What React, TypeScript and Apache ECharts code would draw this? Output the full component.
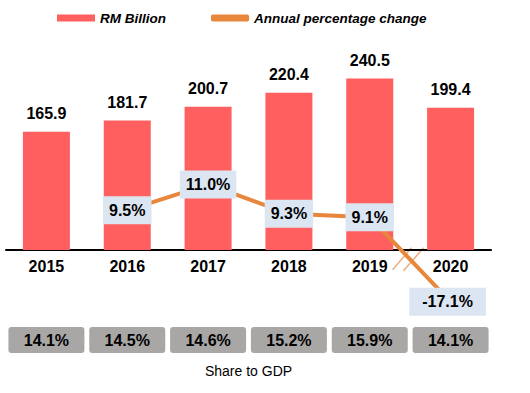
import React, { useEffect, useRef } from "react";
import * as echarts from "echarts";

const years = ["2015", "2016", "2017", "2018", "2019", "2020"];
const rmBillion = [165.9, 181.7, 200.7, 220.4, 240.5, 199.4];
const percentChange: (number | null)[] = [null, 9.5, 11.0, 9.3, 9.1, -17.1];
const shareToGdp = [14.1, 14.5, 14.6, 15.2, 15.9, 14.1];

// broken percentage axis: values below BREAK_BELOW are drawn shifted up by BREAK_SHIFT
const BREAK_BELOW = 0;
const BREAK_SHIFT = 21.3;

const FONT = "'Liberation Sans', Arial, sans-serif";
const BAR_COLOR = "#FF5F5F";
const LINE_COLOR = "#E8863C";
const LABEL_BG = "#DCE6F2";
const GREY = "#A9A6A6";

export default function App() {
  const ref = useRef<HTMLDivElement>(null);
  useEffect(() => {
    if (!ref.current) return;
    const chart = echarts.init(ref.current, undefined, { renderer: "svg" });
    const plotted = percentChange.map((v) =>
      v === null ? null : v < BREAK_BELOW ? v + BREAK_SHIFT : v
    );
    chart.setOption({
      animation: false,
      textStyle: { fontFamily: FONT },
      legend: {
        left: 52,
        top: 6,
        itemWidth: 38,
        itemHeight: 7,
        itemGap: 45,
        textStyle: { fontFamily: FONT, fontSize: 13.5, fontWeight: "bold", fontStyle: "italic", color: "#000" },
        data: [
          { name: "RM Billion", icon: "rect" },
          { name: "Annual percentage change", icon: "roundRect" },
        ],
      },
      grid: { left: 6, right: 39, top: 36, bottom: 143 },
      xAxis: [
        {
          type: "category",
          data: years,
          axisLine: { lineStyle: { color: "#000", width: 2 } },
          axisTick: { show: false },
          axisLabel: { color: "#000", fontSize: 16, fontWeight: "bold", margin: 8, fontFamily: FONT },
        },
        {
          type: "category",
          data: years,
          position: "bottom",
          offset: 70,
          axisLine: { show: false },
          axisTick: { show: false },
          axisLabel: {
            margin: 7,
            color: "#000",
            fontSize: 16,
            fontWeight: "bold",
            fontFamily: FONT,
            backgroundColor: GREY,
            borderRadius: 3,
            width: 76,
            height: 18,
            lineHeight: 18,
            padding: [4, 0],
            align: "center",
            formatter: (_v: string, i: number) => shareToGdp[i].toFixed(1) + "%",
          },
          name: "Share to GDP",
          nameLocation: "middle",
          nameGap: 44,
          nameTextStyle: { color: "#000", fontSize: 14, fontFamily: FONT },
        },
      ],
      yAxis: [
        { type: "value", min: 0, max: 300, show: false, splitLine: { show: false } },
        { type: "value", min: 7.2, max: 19.6, show: false, splitLine: { show: false } },
      ],
      series: [
        {
          name: "RM Billion",
          type: "bar",
          data: rmBillion,
          barWidth: 47,
          itemStyle: { color: BAR_COLOR },
          label: {
            show: true,
            position: "top",
            distance: 10,
            color: "#000",
            fontSize: 16,
            fontWeight: "bold",
            fontFamily: FONT,
            formatter: (p: any) => rmBillion[p.dataIndex].toFixed(1),
          },
        },
        {
          name: "Annual percentage change",
          type: "line",
          yAxisIndex: 1,
          data: plotted.map((v, i) =>
            i === 5
              ? { value: v, label: { padding: [5, 13], offset: [-3, 0] } }
              : v
          ),
          clip: false,
          symbol: "circle",
          symbolSize: 2,
          lineStyle: { color: LINE_COLOR, width: 4 },
          itemStyle: { color: LINE_COLOR },
          label: {
            show: true,
            position: "inside",
            color: "#000",
            fontSize: 16,
            fontWeight: "bold",
            fontFamily: FONT,
            backgroundColor: LABEL_BG,
            padding: [5, 6],
            lineHeight: 18,
            formatter: (p: any) => {
              const v = percentChange[p.dataIndex];
              return v === null ? "" : v.toFixed(1) + "%";
            },
          },
        },
      ],
    });
    // break marks on the line between 2019 and 2020
    const a = chart.convertToPixel({ xAxisIndex: 0, yAxisIndex: 1 }, [4, plotted[4] as number]);
    const b = chart.convertToPixel({ xAxisIndex: 0, yAxisIndex: 1 }, [5, plotted[5] as number]);
    if (a && b) {
      const mx = a[0] + (b[0] - a[0]) * 0.48;
      const my = a[1] + (b[1] - a[1]) * 0.48;
      const markColor = "#EFB084";
      chart.setOption({
        graphic: [
          {
            type: "group",
            x: mx,
            y: my,
            z: 100,
            children: [
              {
                type: "polygon",
                shape: { points: [[-13, 12], [3, -7], [14, -7], [-2, 12]] },
                style: { fill: "#fff" },
              },
              { type: "line", shape: { x1: -16, y1: 12, x2: 3, y2: -10 }, style: { stroke: markColor, lineWidth: 1.6 } },
              { type: "line", shape: { x1: -5, y1: 13, x2: 15, y2: -10 }, style: { stroke: markColor, lineWidth: 1.6 } },
            ],
          },
        ],
      });
    }
    return () => chart.dispose();
  }, []);
  return (
    <div
      ref={ref}
      style={{ position: "fixed", left: 0, top: 0, width: 530, height: 393, background: "#fff" }}
    />
  );
}
